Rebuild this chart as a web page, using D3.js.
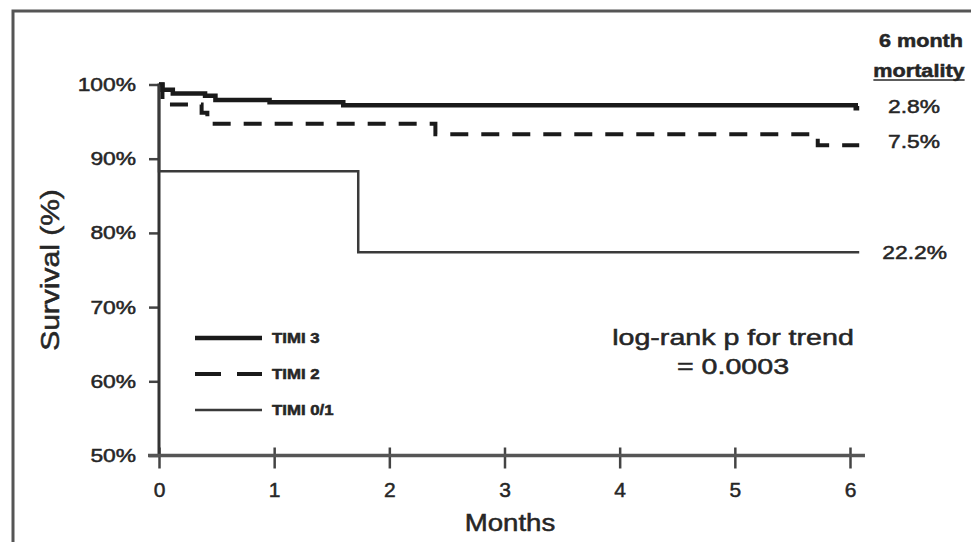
<!DOCTYPE html>
<html>
<head>
<meta charset="utf-8">
<script src="https://cdn.jsdelivr.net/npm/d3@7"></script>
<style>
  body { margin: 0; background: #fff; }
  svg text { font-family: "Liberation Sans", Arial, sans-serif; fill: #262626; stroke: #262626; stroke-width: 0.5px; }
</style>
</head>
<body>
<div class="chart"></div>
<script>
// data (months, survival %)
var timi3Months = [0, 0.03, 0.12, 0.4, 0.49, 0.96, 1.6, 6.05, 6.08];
var timi3Surv   = [100, 99.3, 98.8, 98.5, 97.9, 97.6, 97.2, 96.8, 96.8];
var timi2Months = [0, 0.03, 0.37, 0.42, 2.4, 5.72, 6.08];
var timi2Surv   = [100, 97.3, 96.2, 94.7, 93.3, 91.8, 91.8];
var timi01Months = [0, 0, 1.73, 6.08];
var timi01Surv   = [100, 88.3, 77.4, 77.4];

var xTicks = [0, 1, 2, 3, 4, 5, 6];
var yTicks = [50, 60, 70, 80, 90, 100];
var seriesNames = ['TIMI 3', 'TIMI 2', 'TIMI 0/1'];
var mortality = ['2.8%', '7.5%', '22.2%'];

// options
var width = 971, height = 542;
var stretch = 1.2;   // text in the source is wider than Arial
var ink = '#262626';

var svg = d3.select('.chart').append('svg')
  .attr('width', width)
  .attr('height', height);

svg.append('rect').attr('width', width).attr('height', height).attr('fill', '#fff');

// frame, runs off the right and bottom edges
svg.append('rect')
  .attr('x', 13).attr('y', 11)
  .attr('width', width + 20).attr('height', height + 20)
  .attr('fill', 'none').attr('stroke', '#555').attr('stroke-width', 3);

var x = d3.scaleLinear().domain([0, 6]).range([159, 850]);
var y = d3.scaleLinear().domain([50, 100]).range([455.5, 84.5]);

// widen text like the source
function widen(sel, k) {
  sel.each(function() {
    var n = this.getComputedTextLength();
    d3.select(this).attr('textLength', n * (k || stretch)).attr('lengthAdjust', 'spacingAndGlyphs');
  });
  return sel;
}

function label(px, py, str, size, anchor, weight, k) {
  var t = svg.append('text')
    .attr('x', px).attr('y', py)
    .attr('text-anchor', anchor || 'start')
    .attr('font-size', size)
    .attr('font-weight', weight || 'normal')
    .text(str);
  return widen(t, k);
}

// axes
var yAxis = d3.axisLeft(y).tickValues(yTicks).tickSize(10).tickPadding(13)
  .tickFormat(function(d) { return d + '%'; });
var xAxis = d3.axisBottom(x).tickValues(xTicks).tickSize(13).tickPadding(14)
  .tickFormat(d3.format('d'));

var gy = svg.append('g').attr('transform', 'translate(' + x(0) + ',0)').call(yAxis);
var gx = svg.append('g').attr('transform', 'translate(0,' + y(50) + ')').call(xAxis);

[gx, gy].forEach(function(g) {
  g.select('.domain').remove();
  g.selectAll('line').attr('stroke', '#444').attr('stroke-width', 2.5);
  g.selectAll('text').attr('fill', ink).attr('font-family', '"Liberation Sans", Arial, sans-serif');
});
gy.selectAll('text').attr('font-size', 19);
gx.selectAll('text').attr('font-size', 21);
gx.selectAll('.tick line').attr('y1', -8);
widen(gy.selectAll('text'));

svg.append('line')
  .attr('x1', x(0)).attr('x2', x(0))
  .attr('y1', y(100) - 1).attr('y2', y(50))
  .attr('stroke', '#333').attr('stroke-width', 3);
svg.append('line')
  .attr('x1', x(0) - 11).attr('x2', x(6.13))
  .attr('y1', y(50)).attr('y2', y(50))
  .attr('stroke', '#555').attr('stroke-width', 3.5);

// curves
var step = d3.line()
  .x(function(d) { return x(d[0]); })
  .y(function(d) { return y(d[1]); })
  .curve(d3.curveStepAfter);

var styles = [
  { w: 4.5, dash: null, c: '#1a1a1a' },
  { w: 4, dash: '18,13', c: '#1a1a1a' },
  { w: 2.5, dash: null, c: '#3a3a3a' }
];
var series = [
  d3.zip(timi3Months, timi3Surv),
  d3.zip(timi2Months, timi2Surv),
  d3.zip(timi01Months, timi01Surv)
];

svg.append('g').selectAll('path')
  .data(series)
  .enter()
  .append('path')
  .attr('d', step)
  .attr('fill', 'none')
  .attr('stroke', function(d, i) { return styles[i].c; })
  .attr('stroke-width', function(d, i) { return styles[i].w; })
  .attr('stroke-dasharray', function(d, i) { return styles[i].dash; });

// legend
var leg = svg.append('g');
seriesNames.forEach(function(name, i) {
  var ly = 338 + i * 36;
  leg.append('line')
    .attr('x1', 195).attr('x2', 262)
    .attr('y1', ly).attr('y2', ly)
    .attr('stroke', styles[i].c)
    .attr('stroke-width', styles[i].w)
    .attr('stroke-dasharray', i === 1 ? '26,16' : null);
  label(272, ly + 5, name, 14, 'start', 'bold');
});

// mortality at 6 months
var endY = [y(97.2) + 8, y(91.8) + 3, y(77.4) + 7];
mortality.forEach(function(m, i) {
  label(i === 2 ? 947 : 940, endY[i], m, 19, 'end');
});
label(921, 47, '6 month', 18, 'middle', 'bold');
var mt = label(919, 77, 'mortality', 18, 'middle', 'bold');
var bb = mt.node().getBBox();
svg.append('line')
  .attr('x1', bb.x).attr('x2', bb.x + bb.width)
  .attr('y1', 80).attr('y2', 80)
  .attr('stroke', ink).attr('stroke-width', 1.5);

// p value
label(733, 345, 'log-rank p for trend', 22, 'middle', 'normal', 1.3);
label(733, 374, '= 0.0003', 22, 'middle', 'normal', 1.3);

// axis titles
label(510, 531, 'Months', 23, 'middle');
var yt = svg.append('text')
  .attr('transform', 'translate(59,270) rotate(-90)')
  .attr('text-anchor', 'middle')
  .attr('font-size', 25)
  .text('Survival (%)');
widen(yt);
</script>
</body>
</html>
